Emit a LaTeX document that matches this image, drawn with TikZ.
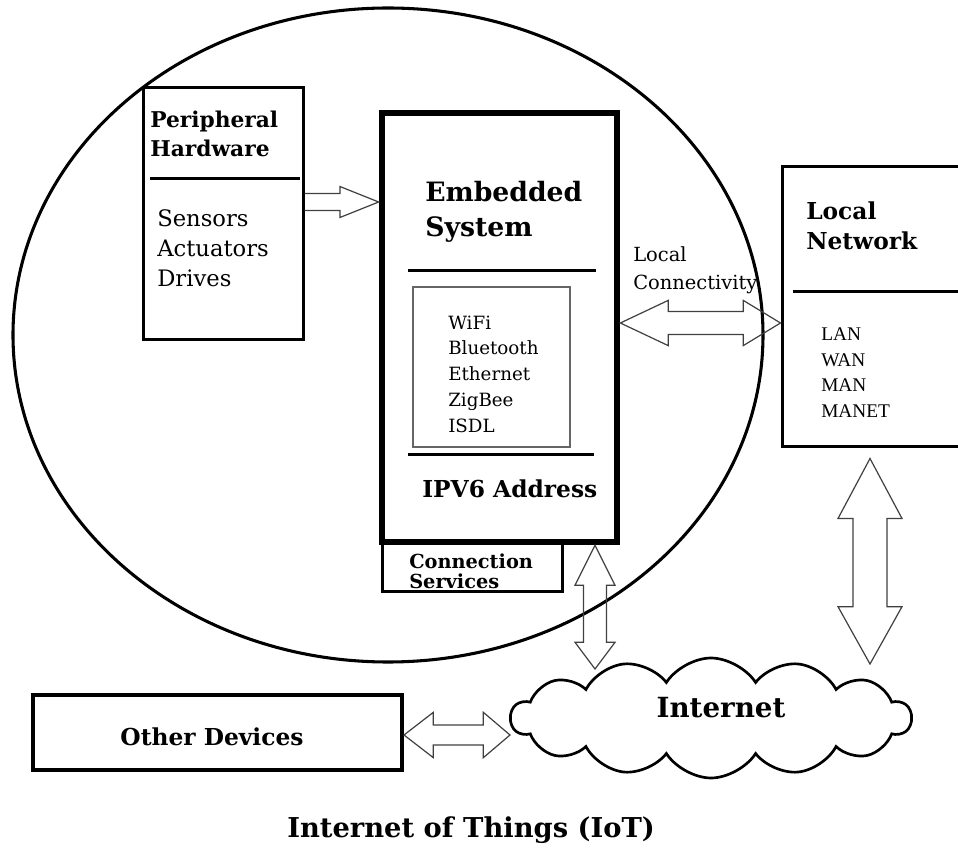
\documentclass[tikz,border=0pt]{standalone}
\usepackage{fontspec}
\setmainfont{DejaVu Serif}
\newfontfamily\tnr{Liberation Serif}
\usetikzlibrary{calc,fit,shapes.symbols,shapes.geometric}
\newcommand{\darrow}[6]{%
 \coordinate (hA) at ($(#1)!#5!(#2)$);
 \coordinate (hB) at ($(#2)!#6!(#1)$);
 \draw[arr] (#1) -- ($(hA)!#4!90:(#2)$) -- ($(hA)!#3!90:(#2)$) -- ($(hB)!#3!-90:(#1)$) -- ($(hB)!#4!-90:(#1)$) -- (#2) -- ($(hB)!#4!90:(#1)$) -- ($(hB)!#3!90:(#1)$) -- ($(hA)!#3!-90:(#2)$) -- ($(hA)!#4!-90:(#2)$) -- cycle;}
\newcommand{\sarrow}[5]{%
 \coordinate (hB) at ($(#2)!#5!(#1)$);
 \draw[arr] ($(#1)!#3!90:(#2)$) -- ($(hB)!#3!-90:(#1)$) -- ($(hB)!#4!-90:(#1)$) -- (#2) -- ($(hB)!#4!90:(#1)$) -- ($(hB)!#3!90:(#1)$) -- ($(#1)!#3!-90:(#2)$);}
\begin{document}
\begin{tikzpicture}[x=0.75pt,y=-0.75pt,
  box/.style={draw, inner sep=0pt, line width=2.25pt},
  arr/.style={draw=black!75, line width=0.9pt, line join=miter},
  lbl/.style={anchor=base west, inner sep=0pt},
  hb/.style={font=\fontsize{16.3}{19}\selectfont\bfseries},
  hbig/.style={font=\fontsize{20}{23}\selectfont\bfseries},
  hmid/.style={font=\fontsize{17.5}{21}\selectfont\bfseries},
  body/.style={font=\fontsize{17}{20}\selectfont},
  small/.style={font=\fontsize{13.7}{16}\selectfont},
  net/.style={font=\tnr\fontsize{14.5}{17}\selectfont},
  divider/.style={line width=2.25pt}]
\useasboundingbox[fill=white] (0,0) rectangle (958,848);
\clip (0,0) rectangle (958,848);

% frame of the IoT
\node[draw, ellipse, line width=2.3pt, minimum width=562.5pt, minimum height=490.5pt, inner sep=0pt] (iot) at (388,335) {};

% boxes
\node[box, fit={(143,88)(303,340)}] (ph) {};
\node[box, line width=5pt, fit={(382,113)(617,542)}] (emb) {};
\node[draw=black!60, line width=1.1pt, inner sep=0pt, fit={(413,287)(570,447)}] (proto) {};
\node[box, fit={(382,542)(562,592)}] (cs) {};
\node[box, fit={(782,167)(975,447)}] (ln) {};
\node[box, line width=3pt, fit={(33,695)(402,770)}] (od) {};
\node[cloud, draw, line width=2pt, cloud puffs=14, cloud puff arc=115, aspect=3.3, minimum width=300pt, minimum height=90pt, inner sep=0pt] (inet) at (711,718) {};

% dividers
\draw[divider] (150,179) -- (300,179);
\draw[divider] (408,271) -- (596,271);
\draw[divider] (408,455) -- (594,455);
\draw[divider] (793,292) -- (958,292);

% texts
\node[lbl, hb] (ph1) at (150,128) {Peripheral};
\node[lbl, hb] (ph2) at (150,157) {Hardware};
\node[lbl, body] (s1) at (157,227) {Sensors};
\node[lbl, body] (s2) at (157,257) {Actuators};
\node[lbl, body] (s3) at (157,287) {Drives};

\node[lbl, hbig] (e1t) at (425,202) {Embedded};
\node[lbl, hbig] (e2t) at (425,237) {System};
\node[lbl, small] (p1) at (448,330) {WiFi};
\node[lbl, small] (p2) at (448,355) {Bluetooth};
\node[lbl, small] (p3) at (448,381) {Ethernet};
\node[lbl, small] (p4) at (448,407) {ZigBee};
\node[lbl, small] (p5) at (448,433) {ISDL};
\node[lbl, hmid] (ip) at (422,498) {IPV6 Address};
\node[lbl, font=\fontsize{14.5}{17}\selectfont\bfseries] (cs1) at (409,569) {Connection};
\node[lbl, font=\fontsize{14.5}{17}\selectfont\bfseries] (cs2) at (409,589) {Services};

\node[lbl, font=\fontsize{14.6}{17}\selectfont] (lc1) at (633,262) {Local};
\node[lbl, font=\fontsize{14.6}{17}\selectfont] (lc2) at (633,290) {Connectivity};

\node[lbl, hmid] (ln1) at (806,220) {Local};
\node[lbl, hmid] (ln2) at (806,250) {Network};
\node[lbl, net] (n1) at (821,341) {LAN};
\node[lbl, net] (n2) at (821,367) {WAN};
\node[lbl, net] (n3) at (821,392) {MAN};
\node[lbl, net] (n4) at (821,418) {MANET};

\node[anchor=base, inner sep=0pt, font=\fontsize{20.8}{24}\selectfont\bfseries] (it) at (721,718) {Internet};
\node[anchor=base, inner sep=0pt, font=\fontsize{17.5}{20}\selectfont\bfseries] (odt) at (212,745) {Other Devices};
\node[lbl, font=\fontsize{20.5}{24}\selectfont\bfseries] (title) at (287,837) {Internet of Things (IoT)};

% block arrows
\coordinate (a1) at (ph.east |- 0,202);
\coordinate (a2) at (emb.west |- 0,202);
\sarrow{a1}{a2}{6.4pt}{11.6pt}{29pt}

\coordinate (b1) at (emb.east |- 0,323);
\coordinate (b2) at (ln.west |- 0,323);
\darrow{b1}{b2}{8.6pt}{17pt}{36pt}{28pt}

\coordinate (c1) at (595,0 |- emb.south);
\coordinate (c2) at (595,669);
\darrow{c1}{c2}{8.6pt}{15pt}{30pt}{20pt}

\coordinate (d1) at ($(870,0 |- ln.south)+(0,10)$);
\coordinate (d2) at (870,664);
\darrow{d1}{d2}{12.75pt}{24pt}{45pt}{43pt}

\coordinate (f1) at (od.east |- 0,735);
\coordinate (f2) at (510,735);
\darrow{f1}{f2}{7.5pt}{17pt}{22pt}{20pt}
\end{tikzpicture}
\end{document}
